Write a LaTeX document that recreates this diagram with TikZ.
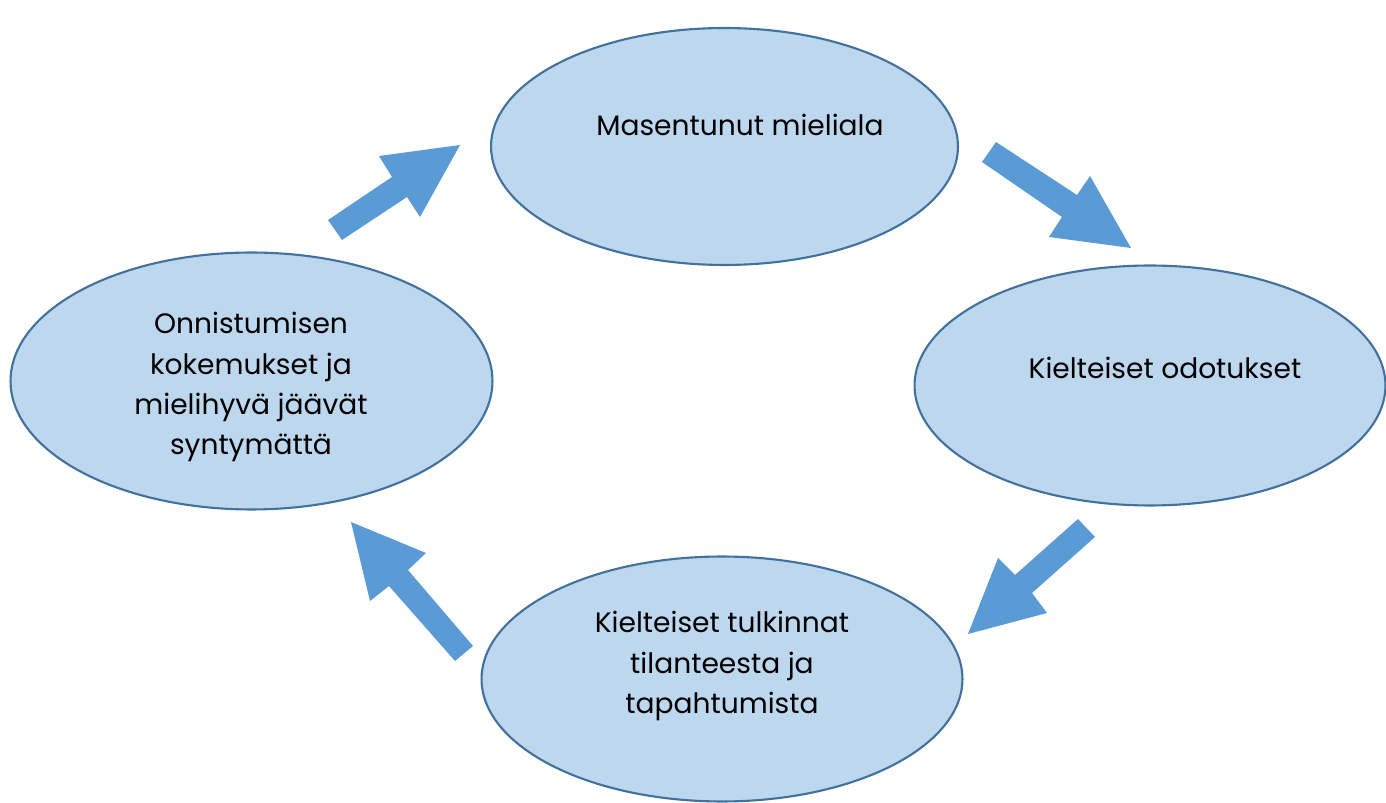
\documentclass[tikz,border=0pt]{standalone}
\usepackage{fontspec}
\setmainfont{Poppins}
\usepackage{xcolor}
\usetikzlibrary{shapes.geometric}
\definecolor{ellfill}{HTML}{BDD7EE}
\definecolor{ellline}{HTML}{41719C}
\definecolor{arrfill}{HTML}{5B9BD5}
\tikzset{
  mood/.style={ellipse, draw=ellline, fill=ellfill, line width=1.2pt, inner sep=0pt},
  moodtext/.style={align=center, font=\fontsize{16}{22.8}\selectfont, text=black},
  bigarrow/.style={fill=arrfill}
}
\begin{document}
\begin{tikzpicture}[x=0.02cm, y=-0.02cm]
	    \useasboundingbox (0,0) rectangle (1386,803);

	    % the four states
	    \node[mood, minimum width=9.34cm, minimum height=4.74cm] (E1) at (724.5,146.5) {};
	    \node[mood, minimum width=9.42cm, minimum height=4.80cm] (E2) at (1150,385.5) {};
	    \node[mood, minimum width=9.64cm, minimum height=5.14cm] (E4) at (251.5,381) {};
	    \node[mood, minimum width=9.62cm, minimum height=4.90cm] (E3) at (722,679) {};

	    \node[moodtext] (T1) at (740,125) {Masentunut mieliala};
	    \node[moodtext] (T2) at (1165,368) {Kielteiset odotukset};
	    \node[moodtext] (T3) at (722,666) {Kielteiset tulkinnat\\tilanteesta ja\\tapahtumista};
	    \node[moodtext] (T4) at (251,387) {Onnistumisen\\kokemukset ja\\mielihyvä jäävät\\syntymättä};

	    % block arrows
	    \fill[bigarrow] (328,220) -- (392,177) -- (379,156) -- (460,145) -- (420,217) -- (407,197) -- (342,240) -- cycle;
	    \fill[bigarrow] (996,142) -- (1077,195) -- (1090,176) -- (1131,248) -- (1049,237) -- (1062,217) -- (982,162) -- cycle;
	    \fill[bigarrow] (1095,537) -- (1032,593) -- (1047,613) -- (968,634) -- (998,558) -- (1015,575) -- (1078,519) -- cycle;
	    \fill[bigarrow] (473,646) -- (408,570) -- (426,553) -- (351,522) -- (370,601) -- (389,586) -- (455,661) -- cycle;

\end{tikzpicture}
\end{document}
